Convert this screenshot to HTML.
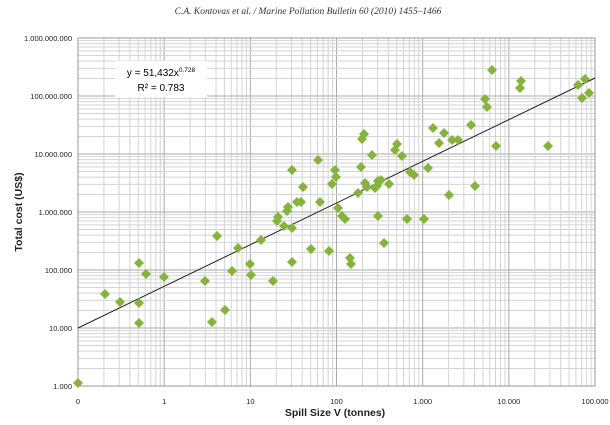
<!DOCTYPE html><html><head><style>body{margin:0;background:#fff}svg{display:block}</style></head><body>
<svg width="610" height="425" xmlns="http://www.w3.org/2000/svg" font-family="Liberation Sans, sans-serif">
<text x="308" y="14" text-anchor="middle" font-family="Liberation Serif, serif" font-style="italic" font-size="9.5" fill="#333">C.A. Kontovas et al. / Marine Pollution Bulletin 60 (2010) 1455–1466</text>
<g id="grid"></g>
<rect x="78" y="38" width="517" height="348" fill="none" stroke="#999" stroke-width="1"/>
<rect x="115" y="61" width="92" height="36" fill="#fff"/>
<text x="161" y="76" text-anchor="middle" font-size="10" fill="#000">y = 51,432x<tspan font-size="6.5" dy="-4">0.728</tspan></text>
<text x="161" y="91" text-anchor="middle" font-size="10" fill="#000">R² = 0.783</text>
<g font-size="7.5" fill="#222" text-anchor="end" id="yl"></g>
<g font-size="7.5" fill="#222" text-anchor="middle" id="xl"></g>
<line x1="78" y1="328" x2="595" y2="78" stroke="#222" stroke-width="1"/>
<g id="pts" fill="#86b33c"></g>
<text x="335" y="416" text-anchor="middle" font-size="10.5" font-weight="bold" fill="#222">Spill Size V (tonnes)</text>
<text transform="translate(22,212) rotate(-90)" text-anchor="middle" font-size="10.5" font-weight="bold" fill="#222">Total cost  (US$)</text>
</svg>
<script>
var ns="http://www.w3.org/2000/svg",g=document.getElementById('grid');
function ln(x1,y1,x2,y2,c){var l=document.createElementNS(ns,'line');l.setAttribute('x1',x1);l.setAttribute('y1',y1);l.setAttribute('x2',x2);l.setAttribute('y2',y2);l.setAttribute('stroke',c);l.setAttribute('stroke-width',1);g.appendChild(l);}
for(var d=0;d<6;d++){for(var k=1;k<10;k++){var x=78+86.17*(d+Math.log10(k));ln(x,38,x,386,k==1?'#aaa':'#d4d4d4');var y=386-58*(d+Math.log10(k));ln(78,y,595,y,k==1?'#aaa':'#d4d4d4');}}
var yl=document.getElementById('yl'),ys=['1.000','10.000','100.000','1.000.000','10.000.000','100.000.000','1.000.000.000'];
ys.forEach(function(s,i){var t=document.createElementNS(ns,'text');t.setAttribute('x',72);t.setAttribute('y',389-58*i);t.textContent=s;yl.appendChild(t);});
var xl=document.getElementById('xl'),xs=['0','1','10','100','1.000','10.000','100.000'];
xs.forEach(function(s,i){var t=document.createElementNS(ns,'text');t.setAttribute('x',78+86.17*i);t.setAttribute('y',404);t.textContent=s;xl.appendChild(t);});
var P=[[78,383],[105,294],[120,302],[139,263],[139,303],[139,323],[146,274],[164,277],[205,281],[212,322],[217,236],[225,310],[232,271],[238,248],[250,264],[251,275],[261,240],[273,281],[277,221],[278,217],[284,226],[287,211],[288,207],[292,170],[292,228],[292,262],[297,202],[301,202],[303,187],[311,249],[318,160],[320,202],[329,251],[332,184],[335,170],[336,177],[338,208],[342,216],[345,219],[350,258],[351,264],[358,193],[361,167],[362,139],[364,134],[365,183],[367,187],[372,155],[375,188],[377,186],[378,181],[381,180],[378,216],[384,243],[389,184],[395,150],[397,144],[402,156],[407,219],[410,172],[414,175],[424,219],[428,168],[433,128],[439,143],[444,133],[449,195],[452,140],[458,140],[475,186],[471,125],[485,99],[487,107],[492,70],[496,146],[520,88],[521,81],[548,146],[578,85],[582,98],[585,79],[589,93]];
var pg=document.getElementById('pts');
P.forEach(function(p){var e=document.createElementNS(ns,'polygon');var x=p[0],y=p[1];e.setAttribute('points',(x)+','+(y-5)+' '+(x+5)+','+y+' '+x+','+(y+5)+' '+(x-5)+','+y);pg.appendChild(e);});
</script>
</body></html>
